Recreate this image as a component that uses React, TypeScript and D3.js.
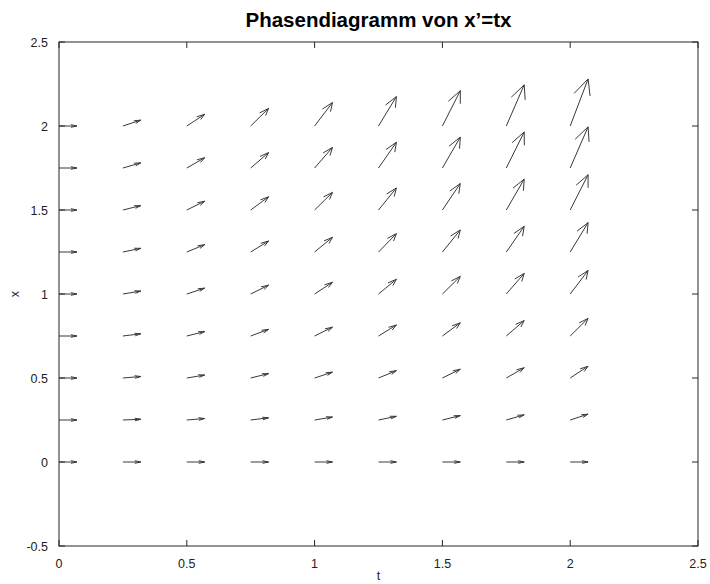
import React from "react";
import * as d3 from "d3";

// grid of the direction field x' = t*x
const tValues = [0, 0.25, 0.5, 0.75, 1, 1.25, 1.5, 1.75, 2];
const xValues = [0, 0.25, 0.5, 0.75, 1, 1.25, 1.5, 1.75, 2];

// slope dx/dt at each grid point, one row per x value (columns follow tValues)
const slopes = [
  [0, 0, 0, 0, 0, 0, 0, 0, 0],
  [0, 0.0625, 0.125, 0.1875, 0.25, 0.3125, 0.375, 0.4375, 0.5],
  [0, 0.125, 0.25, 0.375, 0.5, 0.625, 0.75, 0.875, 1],
  [0, 0.1875, 0.375, 0.5625, 0.75, 0.9375, 1.125, 1.3125, 1.5],
  [0, 0.25, 0.5, 0.75, 1, 1.25, 1.5, 1.75, 2],
  [0, 0.3125, 0.625, 0.9375, 1.25, 1.5625, 1.875, 2.1875, 2.5],
  [0, 0.375, 0.75, 1.125, 1.5, 1.875, 2.25, 2.625, 3],
  [0, 0.4375, 0.875, 1.3125, 1.75, 2.1875, 2.625, 3.0625, 3.5],
  [0, 0.5, 1, 1.5, 2, 2.5, 3, 3.5, 4],
];

const tTicks = [0, 0.5, 1, 1.5, 2, 2.5];
const xTicks = [-0.5, 0, 0.5, 1, 1.5, 2, 2.5];

const title = "Phasendiagramm von x\u2019=tx";
const tLabel = "t";
const xLabel = "x";

const width = 710;
const height = 584;
const margin = { top: 42, right: 12, bottom: 38, left: 59 };
const arrowScale = 0.07; // quiver autoscale
const arrowSize = 1 / 3;
const font = "'Liberation Sans', Arial, Helvetica, sans-serif";

export default function App() {
  const xScale = d3
    .scaleLinear()
    .domain([0, 2.5])
    .range([margin.left, width - margin.right]);
  const yScale = d3
    .scaleLinear()
    .domain([-0.5, 2.5])
    .range([height - margin.bottom, margin.top]);

  const line = d3
    .line<[number, number]>()
    .x(d => xScale(d[0]))
    .y(d => yScale(d[1]));

  const arrows: string[] = [];
  xValues.forEach((xv, i) => {
    tValues.forEach((tv, j) => {
      const u = 1 * arrowScale;
      const v = slopes[i][j] * arrowScale;
      const tEnd = tv + u;
      const xEnd = xv + v;
      const tMid = tv + u * (1 - arrowSize);
      const xMid = xv + v * (1 - arrowSize);
      const shaft = line([[tv, xv], [tEnd, xEnd]]);
      const head = line([
        [tMid - (v * arrowSize) / 3, xMid + (u * arrowSize) / 3],
        [tEnd, xEnd],
        [tMid + (v * arrowSize) / 3, xMid - (u * arrowSize) / 3],
      ]);
      arrows.push(shaft + head);
    });
  });

  const [x0, x1] = xScale.range();
  const [y0, y1] = yScale.range();
  const tickLen = 6;
  const axisColor = "#262626";

  return (
    <svg
      width={width}
      height={height}
      style={{ position: "absolute", left: 0, top: 0, background: "#fff" }}
    >
      <text
        x={(x0 + x1) / 2}
        y={27}
        textAnchor="middle"
        fontFamily={font}
        fontWeight="bold"
        fontSize={20.5}
        fill="#000"
      >
        {title}
      </text>

      <g className="arrows" fill="none" stroke="#3a3a3a" strokeWidth={1}>
        {arrows.map((d, k) => (
          <path key={k} d={d} />
        ))}
      </g>

      <g className="ticks" stroke={axisColor} strokeWidth={1}>
        {tTicks.map(t => (
          <g key={"t" + t}>
            <line x1={xScale(t)} x2={xScale(t)} y1={y0} y2={y0 - tickLen} />
            <line x1={xScale(t)} x2={xScale(t)} y1={y1} y2={y1 + tickLen} />
          </g>
        ))}
        {xTicks.map(x => (
          <g key={"x" + x}>
            <line x1={x0} x2={x0 + tickLen} y1={yScale(x)} y2={yScale(x)} />
            <line x1={x1} x2={x1 - tickLen} y1={yScale(x)} y2={yScale(x)} />
          </g>
        ))}
      </g>

      <rect
        x={x0}
        y={y1}
        width={x1 - x0}
        height={y0 - y1}
        fill="none"
        stroke={axisColor}
        strokeWidth={1}
      />

      <g fontFamily={font} fontSize={12.5} fill="#222">
        {tTicks.map(t => (
          <text key={"tl" + t} x={xScale(t)} y={y0 + 22} textAnchor="middle">
            {String(t)}
          </text>
        ))}
        {xTicks.map(x => (
          <text
            key={"xl" + x}
            x={x0 - 11}
            y={yScale(x) + 4.5}
            textAnchor="end"
          >
            {String(x)}
          </text>
        ))}
        <text x={(x0 + x1) / 2} y={580} textAnchor="middle">
          {tLabel}
        </text>
        <text
          transform={`translate(19,${(y0 + y1) / 2}) rotate(-90)`}
          textAnchor="middle"
        >
          {xLabel}
        </text>
      </g>
    </svg>
  );
}
